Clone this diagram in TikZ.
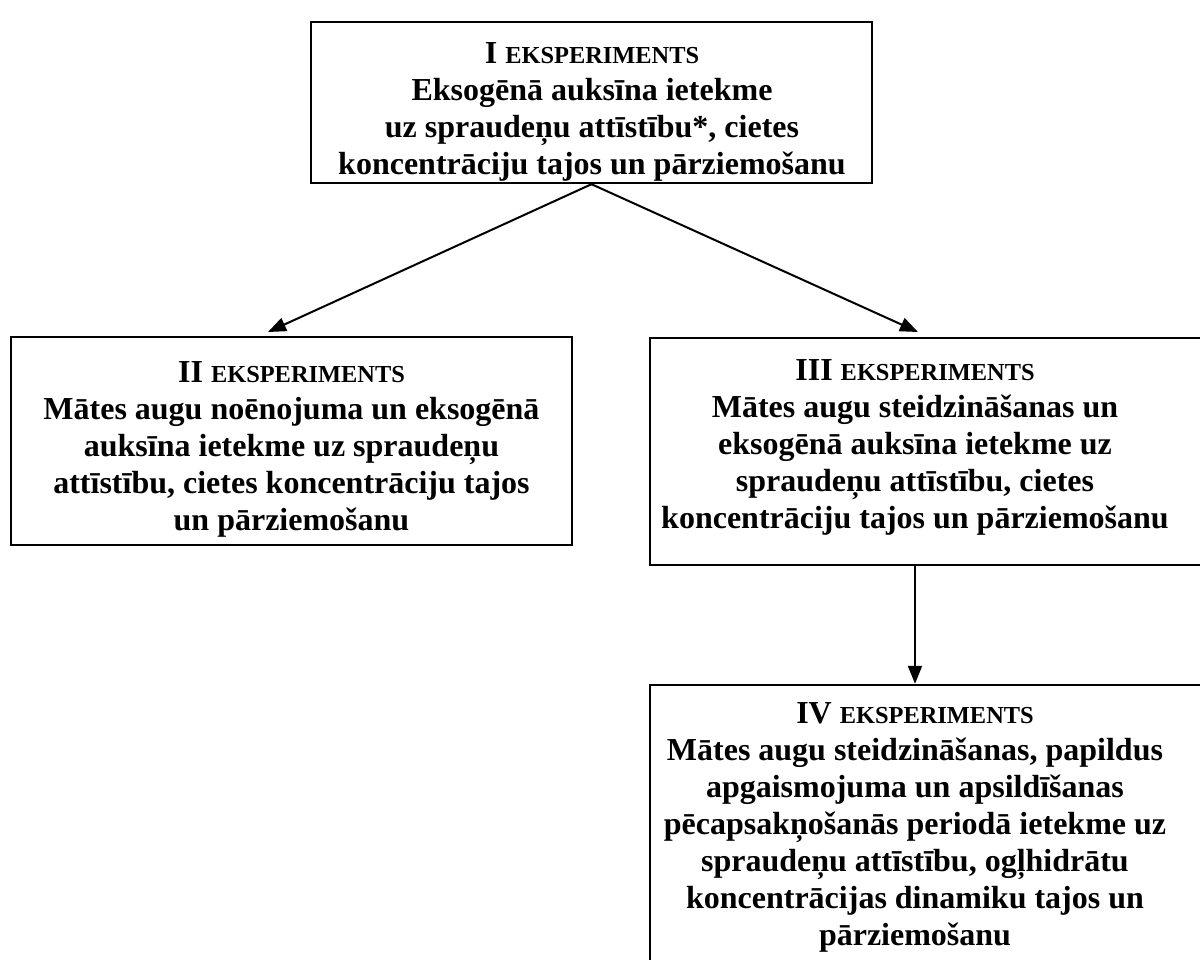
\documentclass[tikz,border=0pt]{standalone}
\usepackage{fontspec}
\setmainfont{Liberation Serif}
\usetikzlibrary{arrows.meta}
\newcommand{\eksp}{{\fontsize{12.2}{12.2}\selectfont EKSPERIMENTS}}
\begin{document}
\begin{tikzpicture}[x=0.5pt,y=-0.5pt,
  boxshape/.style={draw, line width=1.2pt, rectangle, inner sep=0pt},
  txt/.style={align=center, font=\bfseries\fontsize{16}{18.5}\selectfont, inner sep=0pt},
  arr/.style={line width=1pt, -{Triangle[length=9pt,width=7pt]}}]
\useasboundingbox (0,0) rectangle (1200,959);
% boxes: I 311-872 x 22-183 ; II 11-572 x 337-545 ; III 650-1210 x 338-565 ; IV 650-1210 x 685-975
\node[boxshape, minimum width=280.5pt, minimum height=80.5pt] (b1) at (591.5,102.5) {};
\node[boxshape, minimum width=280.5pt, minimum height=104pt] (b2) at (291.5,441) {};
\node[boxshape, minimum width=280pt, minimum height=113.5pt] (b3) at (930,451.5) {};
\node[boxshape, minimum width=280pt, minimum height=145pt] (b4) at (930,830) {};
% texts
\node[txt] (t1) at (592,112) {I \eksp\\Eksogēnā auksīna ietekme\\uz spraudeņu attīstību*, cietes\\koncentrāciju tajos un pārziemošanu};
\node[txt] (t2) at (291.5,449) {II \eksp\\Mātes augu noēnojuma un eksogēnā\\auksīna ietekme uz spraudeņu\\attīstību, cietes koncentrāciju tajos\\un pārziemošanu};
\node[txt] (t3) at (915,447) {III \eksp\\Mātes augu steidzināšanas un\\eksogēnā auksīna ietekme uz\\spraudeņu attīstību, cietes\\koncentrāciju tajos un pārziemošanu};
\node[txt] (t4) at (915,827) {IV \eksp\\Mātes augu steidzināšanas, papildus\\apgaismojuma un apsildīšanas\\pēcapsakņošanās periodā ietekme uz\\spraudeņu attīstību, ogļhidrātu\\koncentrācijas dinamiku tajos un\\pārziemošanu};
% arrow ends
\coordinate (a2) at (268,332);
\coordinate (a3) at (918,332);
\draw[arr] (b1.south) -- (a2);
\draw[arr] (b1.south) -- (a3);
\draw[arr] (t3 |- b3.south) -- (t3 |- b4.north);
\end{tikzpicture}
\end{document}
